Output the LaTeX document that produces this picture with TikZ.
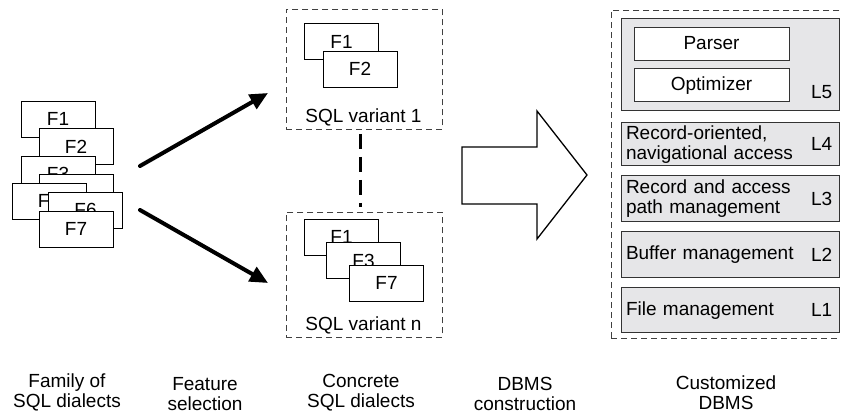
\documentclass[tikz,border=0pt]{standalone}
\usepackage{fontspec}
\setmainfont{Liberation Sans}
\usepackage{tikz}
\usetikzlibrary{arrows.meta,positioning,calc}

\definecolor{layergray}{RGB}{230,230,232}

\begin{document}
\begin{tikzpicture}[
    x=1pt, y=1pt,
    font=\fontsize{19}{20}\selectfont,
    feat/.style={draw=black, line width=0.8pt, fill=white, minimum width=74pt, minimum height=36pt, inner sep=0pt},
    group/.style={draw=black!75, line width=0.9pt, dash pattern=on 6pt off 4pt},
    layer/.style={draw=black!80, line width=0.9pt, fill=layergray, inner xsep=5pt, inner ysep=0pt, text width=208pt, align=left, minimum height=46pt},
    comp/.style={draw=black!80, line width=0.9pt, fill=white, minimum width=155pt, minimum height=33pt, inner sep=0pt},
    tag/.style={inner sep=0pt},
    caption/.style={align=center, inner sep=0pt},
    arr/.style={-{Triangle[length=18pt, width=16pt]}, line width=4pt, line cap=round},
    link/.style={line width=3pt, dash pattern=on 15pt off 8pt},
    bigarrow/.style={draw=black, line width=1.3pt, fill=white, line join=miter},
  ]
    \useasboundingbox (0,0) rectangle (841,-414);
    \clip (0,0) rectangle (841,-414);

    % family of dialects
    \node[feat] (f1) at (58,-119) {F1};
    \node[feat] (f2) at (76,-146.5) {F2};
    \node[feat] (f3) at (58,-174) {F3};
    \node[feat] (f4) at (76,-192) {F4};
    \node[feat] (f5) at (49,-201) {F5};
    \node[feat] (f6) at (85.5,-210) {F6};
    \node[feat] (f7) at (76,-229) {F7};

    % concrete dialects
    \node[group, minimum width=156pt, minimum height=120pt, anchor=north west] (var1) at (286,-9) {};
    \node[feat] (var1f1) at (341.5,-41.5) {F1};
    \node[feat] (var1f2) at (360,-69) {F2};
    \node[anchor=base] (var1lbl) at (363.5,-123) {SQL variant 1};

    \node[group, minimum width=156pt, minimum height=125pt, anchor=north west] (varn) at (286,-212) {};
    \node[feat] (varnf1) at (341.5,-237) {F1};
    \node[feat] (varnf3) at (363.5,-260.5) {F3};
    \node[feat] (varnf7) at (386.5,-283) {F7};
    \node[anchor=base] (varnlbl) at (363.5,-330) {SQL variant n};

    \draw[link] ([shift={(-4,-4)}]var1.south) -- ([shift={(-4,5)}]varn.north);

    \coordinate (sel1) at (140,-166);
    \coordinate (sel2) at (140,-210);
    \coordinate (var1in) at (268,-93);
    \coordinate (varnin) at (268,-283);
    \draw[arr] (sel1) -- (var1in);
    \draw[arr] (sel2) -- (varnin);

    \draw[bigarrow] (462,-147) -- (537,-147) -- (537,-111) -- (587,-175) -- (537,-239) -- (537,-204) -- (462,-204) -- cycle;

    % customized DBMS
    \node[group, minimum width=240pt, minimum height=328pt, anchor=north west] (dbms) at (611,-10) {};
    \node[layer, minimum height=92pt] (l5) at (730,-64) {};
    \node[layer, minimum height=43pt, below=12pt of l5] (l4) {Record-oriented,\\navigational access};
    \node[layer, below=9pt of l4] (l3) {Record and access\\path management};
    \node[layer, below=9pt of l3] (l2) {Buffer management};
    \node[layer, minimum height=45pt, below=9pt of l2] (l1) {File management};

    \node[comp] (parser) at (711.5,-43.5) {Parser};
    \node[comp, below=8pt of parser] (optim) {Optimizer};

    \node[tag, anchor=base east] (l5tag) at ([shift={(-7,12)}]l5.south east) {L5};
    \node[tag, anchor=east] (l4tag) at ([xshift=-7pt]l4.east) {L4};
    \node[tag, anchor=east] (l3tag) at ([xshift=-7pt]l3.east) {L3};
    \node[tag, anchor=east] (l2tag) at ([xshift=-7pt]l2.east) {L2};
    \node[tag, anchor=east] (l1tag) at ([xshift=-7pt]l1.east) {L1};

    % captions
    \node[caption, anchor=base] (famcap) at (67,-407) {Family of\\SQL dialects};
    \node[caption, anchor=base] (selcap) at (205,-410) {Feature\\selection};
    \node[caption, anchor=base] (conccap) at (361,-407) {Concrete\\SQL dialects};
    \node[caption, anchor=base] (constrcap) at (525,-410) {DBMS\\construction};
    \node[caption, anchor=base] (custcap) at (726,-409) {Customized\\DBMS};
  \end{tikzpicture}
\end{document}
